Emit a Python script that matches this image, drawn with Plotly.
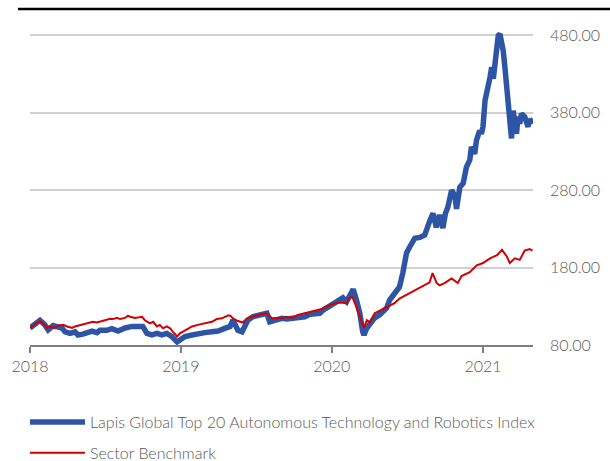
import plotly.graph_objects as go

blue_name = "Lapis Global Top 20 Autonomous Technology and Robotics Index"
red_name = "Sector Benchmark"

blue_dates = ["2018-01-01","2018-01-25","2018-02-06","2018-02-14","2018-02-26","2018-03-10","2018-03-19","2018-03-27",
"2018-04-08","2018-04-20","2018-04-27","2018-05-09","2018-05-21","2018-05-31","2018-06-12","2018-06-19","2018-07-06",
"2018-07-18","2018-08-02","2018-08-19","2018-09-05","2018-09-24","2018-10-01","2018-10-11","2018-10-23","2018-11-04",
"2018-11-16","2018-11-28","2018-12-10","2018-12-23","2018-12-30","2019-01-11","2019-01-28","2019-02-11","2019-02-28",
"2019-03-17","2019-04-01","2019-04-17","2019-04-30","2019-05-07","2019-05-12","2019-05-19","2019-05-29","2019-06-05",
"2019-06-12","2019-06-24","2019-07-16","2019-07-28","2019-08-04","2019-08-16","2019-09-02","2019-09-14","2019-09-27",
"2019-10-11","2019-10-28","2019-11-09","2019-11-21","2019-12-03","2019-12-11","2019-12-23","2020-01-01",
"2020-01-20","2020-01-28","2020-02-06","2020-02-18","2020-02-22","2020-03-01","2020-03-09",
"2020-03-16","2020-03-19","2020-03-26","2020-04-02","2020-04-14","2020-04-26","2020-05-13","2020-05-20","2020-06-01",
"2020-06-13","2020-06-21","2020-06-30","2020-07-08","2020-07-20","2020-08-01","2020-08-13","2020-08-25","2020-09-02",
"2020-09-10","2020-09-18","2020-09-26","2020-10-02","2020-10-08","2020-10-17","2020-10-25","2020-10-29","2020-11-06",
"2020-11-14","2020-11-22","2020-11-30","2020-12-04","2020-12-12","2020-12-16","2020-12-24","2020-12-28","2021-01-01",
"2021-01-06","2021-01-14","2021-01-18","2021-01-22","2021-01-26","2021-01-30","2021-02-03","2021-02-07","2021-02-11",
"2021-02-15","2021-02-19","2021-02-23","2021-02-27","2021-03-03","2021-03-07","2021-03-11","2021-03-15","2021-03-19",
"2021-03-23","2021-03-27","2021-03-31","2021-04-04","2021-04-12","2021-04-20","2021-04-24","2021-05-01"]
blue_vals = [102,112,106,99.5,105,103.6,102,97,
95,97,93,94,96,98,96,99,99,
101,98,102,104,105,104,95,93,95,
93,95,91,84,86.5,91,93,95,96,
97,98,101.5,104,112,107,99,97,106,
112,116.5,119.6,121,110,112,114.5,113.5,114.5,
116.5,116.5,119.6,121,121,125,129,132.5,
138,141,136,147,152,138,121,
97,93,102,108,115,119,128,138,147,
155,173,199,207,218,219,222,240,250,
232,248,231,250,258,280,273,256,284,
289,310,319,336,327,344,357,353,362,
396,413,426,439,424,443,465,480,482,
473,460,439,418,396,362,347,383,370,
353,375,366,379,375,362,372,366]

red_dates = ["2018-01-01","2018-01-25","2018-02-06","2018-02-11","2018-02-18","2018-03-02","2018-03-10","2018-03-22",
"2018-04-01","2018-04-13","2018-04-20","2018-04-27","2018-05-09","2018-05-21","2018-06-02","2018-06-12","2018-06-24",
"2018-07-06","2018-07-14","2018-07-21","2018-07-30","2018-08-07","2018-08-19","2018-08-26","2018-08-31","2018-09-12",
"2018-09-29","2018-10-06","2018-10-18","2018-10-26","2018-11-04","2018-11-11","2018-11-19","2018-11-28","2018-12-06",
"2018-12-13","2018-12-23","2018-12-30","2019-01-11","2019-01-28","2019-02-11","2019-02-28","2019-03-17","2019-03-29",
"2019-04-10","2019-04-25","2019-04-30","2019-05-07","2019-05-19","2019-05-31","2019-06-10","2019-06-22","2019-07-06",
"2019-07-23","2019-07-31","2019-08-09","2019-08-21","2019-09-02","2019-09-14","2019-09-27","2019-10-11","2019-10-28",
"2019-11-14","2019-11-26","2019-12-08","2019-12-15","2020-01-01",
"2020-01-20","2020-02-06","2020-02-13","2020-02-20","2020-03-01","2020-03-09","2020-03-16","2020-03-19","2020-03-26",
"2020-04-02","2020-04-14","2020-05-08","2020-06-01","2020-06-13","2020-07-08","2020-08-01","2020-08-25","2020-09-01",
"2020-09-11","2020-09-18","2020-09-30","2020-10-17","2020-11-01","2020-11-10","2020-11-30","2020-12-17","2021-01-01",
"2021-01-18","2021-02-04","2021-02-16","2021-02-28","2021-03-07","2021-03-19","2021-03-31","2021-04-12","2021-04-24",
"2021-05-01"]
red_vals = [102,111,106,102,104,102,105,106,
104,102,104,105,107,108,110,109,111,
112,114,113.5,115,113.5,115,118,116.5,115,
116.5,112,108,110,104,106,101.5,104,101.5,
97,91,95,99,104,106,108,110,113.5,
114.5,118,118,114.5,111,109,114.5,116.5,118.7,
121,119.6,114.5,115,114.5,116.5,115,118.7,121,
123,125,126.5,129,132.5,
135,134,141,142,129,116,104,102,112,
109,121,128,134,140,147,154,161,173,
160,157,160,166,160,169,174,183,186,
192,196,203,194,186,192,190,202,204,
202]

y_ticks = [80, 180, 280, 380, 480]
x_start, x_end = "2018-01-01", "2021-05-02"

FONT = "Lato, Roboto, sans-serif"
GREY = "#595959"

fig = go.Figure()
fig.add_trace(go.Scatter(x=blue_dates, y=blue_vals, mode="lines", name=blue_name,
                         line=dict(color="#2E55A5", width=5.5)))
fig.add_trace(go.Scatter(x=red_dates, y=red_vals, mode="lines", name=red_name,
                         line=dict(color="#D20000", width=2)))

fig.update_layout(
    width=610, height=461,
    margin=dict(l=30, r=77, t=20, b=116, autoexpand=False),
    paper_bgcolor="white", plot_bgcolor="white",
    font=dict(family=FONT, color=GREY, size=16, weight=300),
    showlegend=True,
    legend=dict(x=-0.010, y=-0.185, xanchor="left", yanchor="top", orientation="v",
                font=dict(size=16, color=GREY, weight=300), itemwidth=55, tracegroupgap=7,
                bgcolor="rgba(0,0,0,0)"),
    xaxis=dict(range=[x_start, x_end], type="date", tickformat="%Y", dtick="M12", tick0="2018-01-01",
               showgrid=False, showline=True, linecolor="#7f7f7f", linewidth=2,
               ticks="outside", ticklen=6, tickcolor="#7f7f7f", tickwidth=2, automargin=False,
               tickfont=dict(size=16, color=GREY, weight=300), zeroline=False),
    yaxis=dict(range=[80, 500], side="right", tickvals=y_ticks, tickformat=".2f",
               showgrid=True, gridcolor="#d0d0d0", gridwidth=2, zeroline=False, automargin=False,
               showline=False, ticks="", ticklabelstandoff=16,
               tickfont=dict(size=16, color=GREY, weight=300)),
    shapes=[dict(type="line", xref="paper", yref="paper", x0=-0.024, x1=1.16, y0=1.034, y1=1.034,
                 line=dict(color="black", width=2.5))],
)
for i, tr in enumerate(fig.data):
    tr.legendgroup = f"g{i}"

fig.write_html("out.html", config={"displayModeBar": False},
               post_script="document.body.style.margin='0';")
